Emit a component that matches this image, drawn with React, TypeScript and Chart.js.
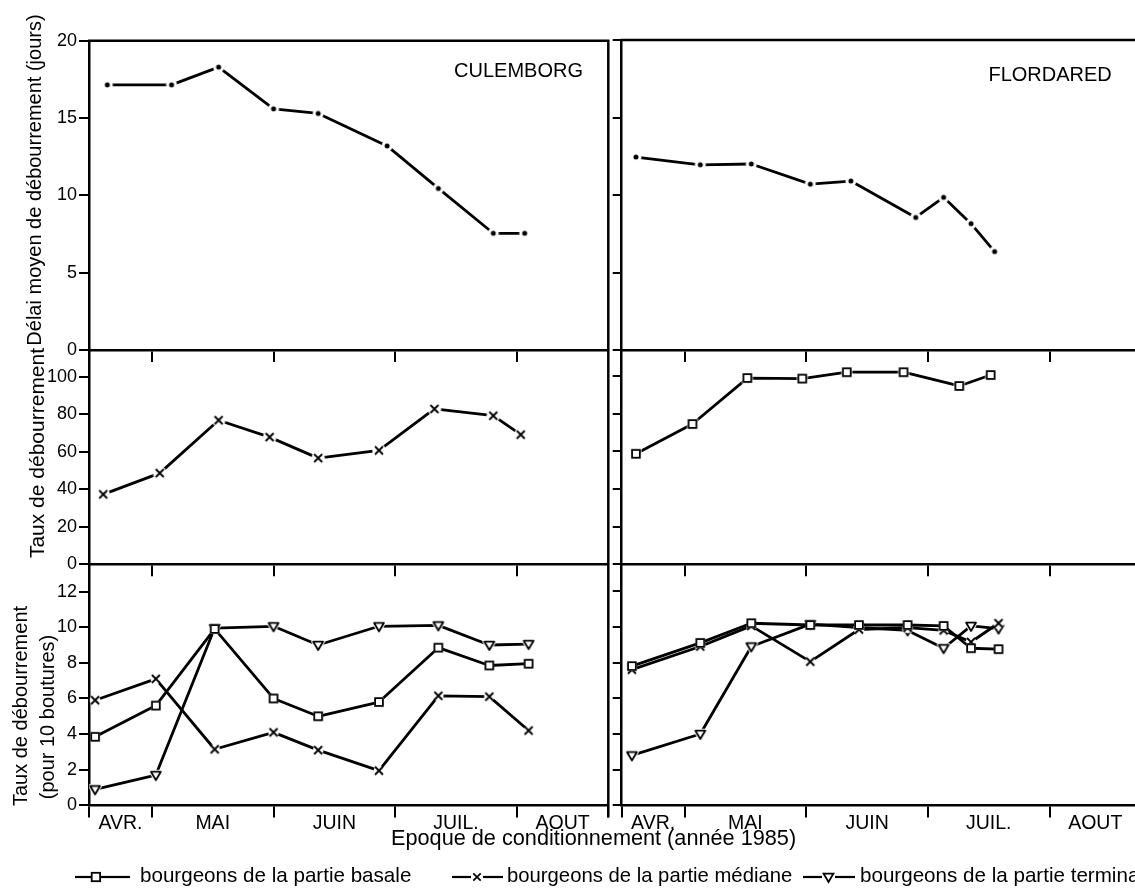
import React, { useEffect, useRef } from 'react';
import { Chart, registerables } from 'chart.js';

Chart.register(...registerables);

const FONT = '"Liberation Sans", Arial, Helvetica, sans-serif';

// ---------- axis data ----------
// x values are fractional month indices: 3 = 1 April, 4 = 1 May, ...
const X_MIN = 3.483;
const X_MAX = 7.752;
const MONTH_NAMES = ['AVR.', 'MAI', 'JUIN', 'JUIL.', 'AOUT'];
const MONTH_STARTS = [3, 4, 5, 6, 7];

const Y_TICKS_DELAI = [0, 5, 10, 15, 20];
const Y_TICKS_TAUX = [0, 20, 40, 60, 80, 100];
const Y_TICKS_BOUT = [0, 2, 4, 6, 8, 10, 12];
const Y_MAX_DELAI = 20;
const Y_MAX_TAUX = 113.8;
const Y_MAX_BOUT = 13.5;

// ---------- series data ----------
const CULEMBORG_DATES_DELAI = ['20/04', '06/05', '18/05', '01/06', '12/06', '29/06', '12/07', '26/07', '03/08'];
const CULEMBORG_DELAI = [17.15, 17.15, 18.3, 15.6, 15.3, 13.2, 10.45, 7.55, 7.55];

const FLORDARED_DATES_DELAI = ['19/04', '05/05', '18/05', '02/06', '12/06', '28/06', '05/07', '12/07', '18/07'];
const FLORDARED_DELAI = [12.45, 11.95, 12.0, 10.7, 10.9, 8.55, 9.85, 8.15, 6.35];

const CULEMBORG_DATES_TAUX = ['19/04', '03/05', '18/05', '31/05', '12/06', '27/06', '11/07', '26/07', '02/08'];
const CULEMBORG_TAUX = [37.3, 48.6, 76.8, 67.8, 56.6, 60.7, 82.8, 79.2, 69.1];

const FLORDARED_DATES_TAUX = ['19/04', '03/05', '17/05', '31/05', '11/06', '25/06', '09/07', '17/07'];
const FLORDARED_TAUX = [58.7, 74.5, 98.9, 98.6, 102, 102, 94.7, 100.5];

const CULEMBORG_DATES_BOUT = ['17/04', '02/05', '17/05', '01/06', '12/06', '27/06', '12/07', '25/07', '04/08'];
const CULEMBORG_BASALE = [3.85, 5.6, 9.9, 6.0, 5.0, 5.8, 8.85, 7.85, 7.95];
const CULEMBORG_MEDIANE = [5.9, 7.1, 3.15, 4.1, 3.1, 1.95, 6.15, 6.1, 4.2];
const CULEMBORG_TERMINALE = [0.9, 1.7, 9.95, 10.05, 9.0, 10.05, 10.1, 9.0, 9.05];

const FLORDARED_DATES_BOUT = ['18/04', '05/05', '18/05', '02/06', '14/06', '26/06', '05/07', '12/07', '19/07'];
const FLORDARED_BASALE = [7.8, 9.1, 10.2, 10.1, 10.1, 10.1, 10.05, 8.8, 8.75];
const FLORDARED_MEDIANE = [7.6, 8.9, 10.05, 8.05, 9.85, 9.95, 9.8, 9.15, 10.2];
const FLORDARED_TERMINALE = [2.8, 4.0, 8.9, 10.15, 9.95, 9.8, 8.8, 10.05, 9.9];

const LEGEND_LABELS = [
  'bourgeons de la partie basale',
  'bourgeons de la partie médiane',
  'bourgeons de la partie terminale',
];

// ---------- layout ----------
const COLS = [
  { left: 89, width: 519.3, axisW: 60 },
  { left: 621.7, width: 519.3, axisW: 12 },
];
const ROWS = [
  { top: 40, bottom: 350, xh: 14 },
  { top: 350, bottom: 564.3, xh: 14 },
  { top: 564.3, bottom: 805.4, xh: 46 },
];

const DAYS_IN_MONTH = [31, 28, 31, 30, 31, 30, 31, 31, 30, 31, 30, 31];
function fm(d: string): number {
  const [dd, mm] = d.split('/').map(Number);
  return mm - 1 + (dd - 1) / DAYS_IN_MONTH[mm - 1];
}

function geom(ci: number, ri: number) {
  const c = COLS[ci];
  const r = ROWS[ri];
  const l = Math.floor(c.left - c.axisW);
  const right = Math.ceil(c.left + c.width + 5);
  const t = Math.floor(r.top) - 12;
  const b = Math.ceil(r.bottom + r.xh);
  return {
    l, t, w: right - l, h: b - t,
    axisW: c.left - l,
    padRight: right - (c.left + c.width),
    padTop: r.top - t,
    xh: b - r.bottom,
  };
}

function makeMarker(kind: string, halo: number): HTMLCanvasElement {
  const S = 24;
  const m = S / 2;
  const c = document.createElement('canvas');
  c.width = S;
  c.height = S;
  const g = c.getContext('2d')!;
  g.fillStyle = '#fff';
  g.strokeStyle = '#000';
  g.lineWidth = 1.8;
  if (kind === 'dot') {
    g.beginPath();
    g.arc(m, m, 2.5 + halo, 0, Math.PI * 2);
    g.fill();
    g.fillStyle = '#000';
    g.beginPath();
    g.arc(m, m, 2.5, 0, Math.PI * 2);
    g.fill();
  } else if (kind === 'cross') {
    const r = 4.0;
    g.beginPath();
    g.arc(m, m, r * 1.2 + halo, 0, Math.PI * 2);
    g.fill();
    g.beginPath();
    g.moveTo(m - r, m - r);
    g.lineTo(m + r, m + r);
    g.moveTo(m + r, m - r);
    g.lineTo(m - r, m + r);
    g.stroke();
  } else if (kind === 'square') {
    const h = 3.9;
    g.fillRect(m - h - halo, m - h - halo, 2 * (h + halo), 2 * (h + halo));
    g.strokeRect(m - h, m - h, 2 * h, 2 * h);
  } else if (kind === 'tri') {
    const pts = [[m - 4.9, m - 3.3], [m + 4.9, m - 3.3], [m, m + 5]];
    g.lineJoin = 'round';
    g.beginPath();
    g.moveTo(pts[0][0], pts[0][1]);
    g.lineTo(pts[1][0], pts[1][1]);
    g.lineTo(pts[2][0], pts[2][1]);
    g.closePath();
    g.save();
    g.strokeStyle = '#fff';
    g.lineWidth = 1.8 + 2 * halo;
    g.stroke();
    g.restore();
    g.fill();
    g.stroke();
  }
  return c;
}

function series(dates: string[], values: number[], marker: HTMLCanvasElement) {
  return {
    data: dates.map((d, i) => ({ x: fm(d), y: values[i] })),
    borderColor: '#000',
    backgroundColor: '#000',
    borderWidth: 2.8,
    pointStyle: marker,
    pointRadius: 6,
    pointHoverRadius: 6,
    pointBorderWidth: 0,
    tension: 0,
    fill: false,
    borderJoinStyle: 'round',
    borderCapStyle: 'round',
  };
}

function buildXTicks(withLabels: boolean) {
  const ticks: any[] = [];
  MONTH_STARTS.forEach((s) => {
    if (s > X_MIN && s < X_MAX) ticks.push({ value: s });
  });
  if (withLabels) {
    ticks.push({ value: X_MIN }, { value: X_MAX });
    MONTH_NAMES.forEach((name, i) => {
      const a = Math.max(MONTH_STARTS[i], X_MIN);
      const b = Math.min(MONTH_STARTS[i] + 1, X_MAX);
      ticks.push({ value: (a + b) / 2, lab: name });
    });
  }
  return ticks.sort((p, q) => p.value - q.value);
}

const framePlugin = {
  id: 'frame',
  afterDraw(chart: any, _args: any, opts: any) {
    const { ctx, chartArea: a } = chart;
    ctx.save();
    ctx.strokeStyle = '#000';
    ctx.lineWidth = 2.5;
    ctx.beginPath();
    if (opts.top) {
      ctx.moveTo(a.left - 1, a.top);
      ctx.lineTo(a.right + 1, a.top);
    }
    if (opts.right) {
      ctx.moveTo(a.right, a.top - 1);
      ctx.lineTo(a.right, a.bottom + (opts.ext || 0));
    }
    ctx.stroke();
    ctx.restore();
  },
};

function makeConfig(ci: number, ri: number, datasets: any[]) {
  const g = geom(ci, ri);
  const isBottom = ri === 2;
  const yTicks = [Y_TICKS_DELAI, Y_TICKS_TAUX, Y_TICKS_BOUT][ri];
  const yMax = [Y_MAX_DELAI, Y_MAX_TAUX, Y_MAX_BOUT][ri];
  return {
    type: 'line',
    data: { datasets },
    options: {
      animation: false,
      responsive: false,
      devicePixelRatio: 1,
      events: [],
      layout: { padding: { left: 0, top: g.padTop, right: g.padRight, bottom: 0 }, autoPadding: false },
      plugins: {
        legend: { display: false },
        tooltip: { enabled: false },
        frame: { top: ri === 0, right: ci === 0, ext: isBottom ? 12 : 0 },
      },
      scales: {
        x: {
          type: 'linear',
          min: X_MIN,
          max: X_MAX,
          afterBuildTicks: (s: any) => {
            s.ticks = buildXTicks(isBottom);
          },
          afterFit: (s: any) => {
            s.height = g.xh;
          },
          ticks: {
            display: isBottom,
            autoSkip: false,
            maxRotation: 0,
            minRotation: 0,
            padding: -5.5,
            color: '#000',
            font: { family: FONT, size: 19.5 },
            callback: (_v: any, i: number, t: any[]) => (t[i] && t[i].lab ? t[i].lab : ''),
          },
          grid: {
            drawOnChartArea: false,
            drawTicks: true,
            tickLength: 12,
            lineWidth: 2,
            color: '#000',
            tickColor: (c: any) => (c.tick && c.tick.lab ? 'rgba(0,0,0,0)' : '#000'),
          },
          border: { display: true, color: '#000', width: 2.5 },
        },
        y: {
          type: 'linear',
          min: 0,
          max: yMax,
          afterBuildTicks: (s: any) => {
            s.ticks = yTicks.map((v) => ({ value: v }));
          },
          afterFit: (s: any) => {
            s.width = g.axisW;
          },
          ticks: {
            display: ci === 0,
            autoSkip: false,
            padding: 2,
            color: '#000',
            font: { family: FONT, size: 18 },
            callback: (v: any) => String(v),
          },
          grid: {
            drawOnChartArea: false,
            drawTicks: true,
            tickLength: ci === 0 ? 10 : 9,
            lineWidth: 2,
            color: '#000',
          },
          border: { display: true, color: '#000', width: 2.5 },
        },
      },
    },
    plugins: [framePlugin],
  };
}

function buildDatasets(ci: number, ri: number) {
  if (ri === 0) {
    const dot = makeMarker('dot', 3);
    return ci === 0
      ? [series(CULEMBORG_DATES_DELAI, CULEMBORG_DELAI, dot)]
      : [series(FLORDARED_DATES_DELAI, FLORDARED_DELAI, dot)];
  }
  if (ri === 1) {
    return ci === 0
      ? [series(CULEMBORG_DATES_TAUX, CULEMBORG_TAUX, makeMarker('cross', 2))]
      : [series(FLORDARED_DATES_TAUX, FLORDARED_TAUX, makeMarker('square', 1.6))];
  }
  const sq = makeMarker('square', 1);
  const cr = makeMarker('cross', 0.5);
  const tr = makeMarker('tri', 1);
  return ci === 0
    ? [
        series(CULEMBORG_DATES_BOUT, CULEMBORG_BASALE, sq),
        series(CULEMBORG_DATES_BOUT, CULEMBORG_MEDIANE, cr),
        series(CULEMBORG_DATES_BOUT, CULEMBORG_TERMINALE, tr),
      ]
    : [
        series(FLORDARED_DATES_BOUT, FLORDARED_BASALE, sq),
        series(FLORDARED_DATES_BOUT, FLORDARED_MEDIANE, cr),
        series(FLORDARED_DATES_BOUT, FLORDARED_TERMINALE, tr),
      ];
}

function Panel({ ci, ri }: { ci: number; ri: number }) {
  const ref = useRef<HTMLCanvasElement>(null);
  const g = geom(ci, ri);
  useEffect(() => {
    const chart = new Chart(ref.current as HTMLCanvasElement, makeConfig(ci, ri, buildDatasets(ci, ri)) as any);
    return () => chart.destroy();
  }, [ci, ri]);
  return (
    <canvas
      ref={ref}
      width={g.w}
      height={g.h}
      style={{ position: 'absolute', left: g.l, top: g.t, width: g.w, height: g.h }}
    />
  );
}

function Label({ x, y, size, text, align = 'left' }: { x: number; y: number; size: number; text: string; align?: string }) {
  const style: any = {
    position: 'absolute',
    top: y - 0.8465 * size,
    fontSize: size,
    lineHeight: `${size}px`,
    fontFamily: FONT,
    whiteSpace: 'nowrap',
    color: '#000',
  };
  if (align === 'right') style.right = 1135 - x;
  else style.left = x;
  return <div style={style}>{text}</div>;
}

function VLabel({ cx, cy, size, text }: { cx: number; cy: number; size: number; text: string }) {
  return (
    <div
      style={{
        position: 'absolute',
        left: cx,
        top: cy,
        transform: 'translate(-50%, -50%) rotate(-90deg)',
        fontSize: size,
        lineHeight: `${size}px`,
        fontFamily: FONT,
        whiteSpace: 'nowrap',
        color: '#000',
      }}
    >
      {text}
    </div>
  );
}

function LegendIcons() {
  const cy = 877;
  return (
    <svg width={1135} height={888} style={{ position: 'absolute', left: 0, top: 0, pointerEvents: 'none' }}>
      <g stroke="#000" strokeWidth={2.2} fill="none">
        <line x1={75} y1={cy} x2={91} y2={cy} />
        <rect x={91.7} y={cy - 4.2} width={8.4} height={8.4} fill="#fff" strokeWidth={1.8} />
        <line x1={101} y1={cy} x2={130} y2={cy} />

        <line x1={452} y1={cy} x2={471} y2={cy} />
        <line x1={473.3} y1={cy - 3.7} x2={480.7} y2={cy + 3.7} strokeWidth={1.8} />
        <line x1={480.7} y1={cy - 3.7} x2={473.3} y2={cy + 3.7} strokeWidth={1.8} />
        <line x1={483} y1={cy} x2={503} y2={cy} />

        <line x1={803} y1={cy} x2={822} y2={cy} />
        <polygon points={`${823.6},${cy - 3.3} ${833.4},${cy - 3.3} ${828.5},${cy + 5}`} fill="#fff" strokeWidth={1.8} />
        <line x1={835} y1={cy} x2={855} y2={cy} />
      </g>
    </svg>
  );
}

export default function App() {
  return (
    <div
      style={{
        position: 'fixed',
        left: 0,
        top: 0,
        width: 1135,
        height: 888,
        overflow: 'hidden',
        background: '#fff',
        fontFamily: FONT,
      }}
    >
      {[0, 1].map((ci) => [0, 1, 2].map((ri) => <Panel key={`${ci}-${ri}`} ci={ci} ri={ri} />))}

      <VLabel cx={34} cy={180} size={20} text="Délai moyen de débourrement (jours)" />
      <VLabel cx={36} cy={452.5} size={21} text="Taux de débourrement" />
      <VLabel cx={19.5} cy={705.8} size={20} text="Taux de débourrement" />
      <VLabel cx={47} cy={717} size={20} text="(pour 10 boutures)" />

      <Label x={583} y={77.3} size={20} align="right" text="CULEMBORG" />
      <Label x={1111.8} y={81} size={20} align="right" text="FLORDARED" />

      <Label x={391} y={845.5} size={21.7} text="Epoque de conditionnement  (année 1985)" />

      <LegendIcons />
      <Label x={140} y={882.5} size={20.6} text={LEGEND_LABELS[0]} />
      <Label x={507} y={882.5} size={20.3} text={LEGEND_LABELS[1]} />
      <Label x={860} y={882.5} size={20.6} text={LEGEND_LABELS[2]} />
    </div>
  );
}
